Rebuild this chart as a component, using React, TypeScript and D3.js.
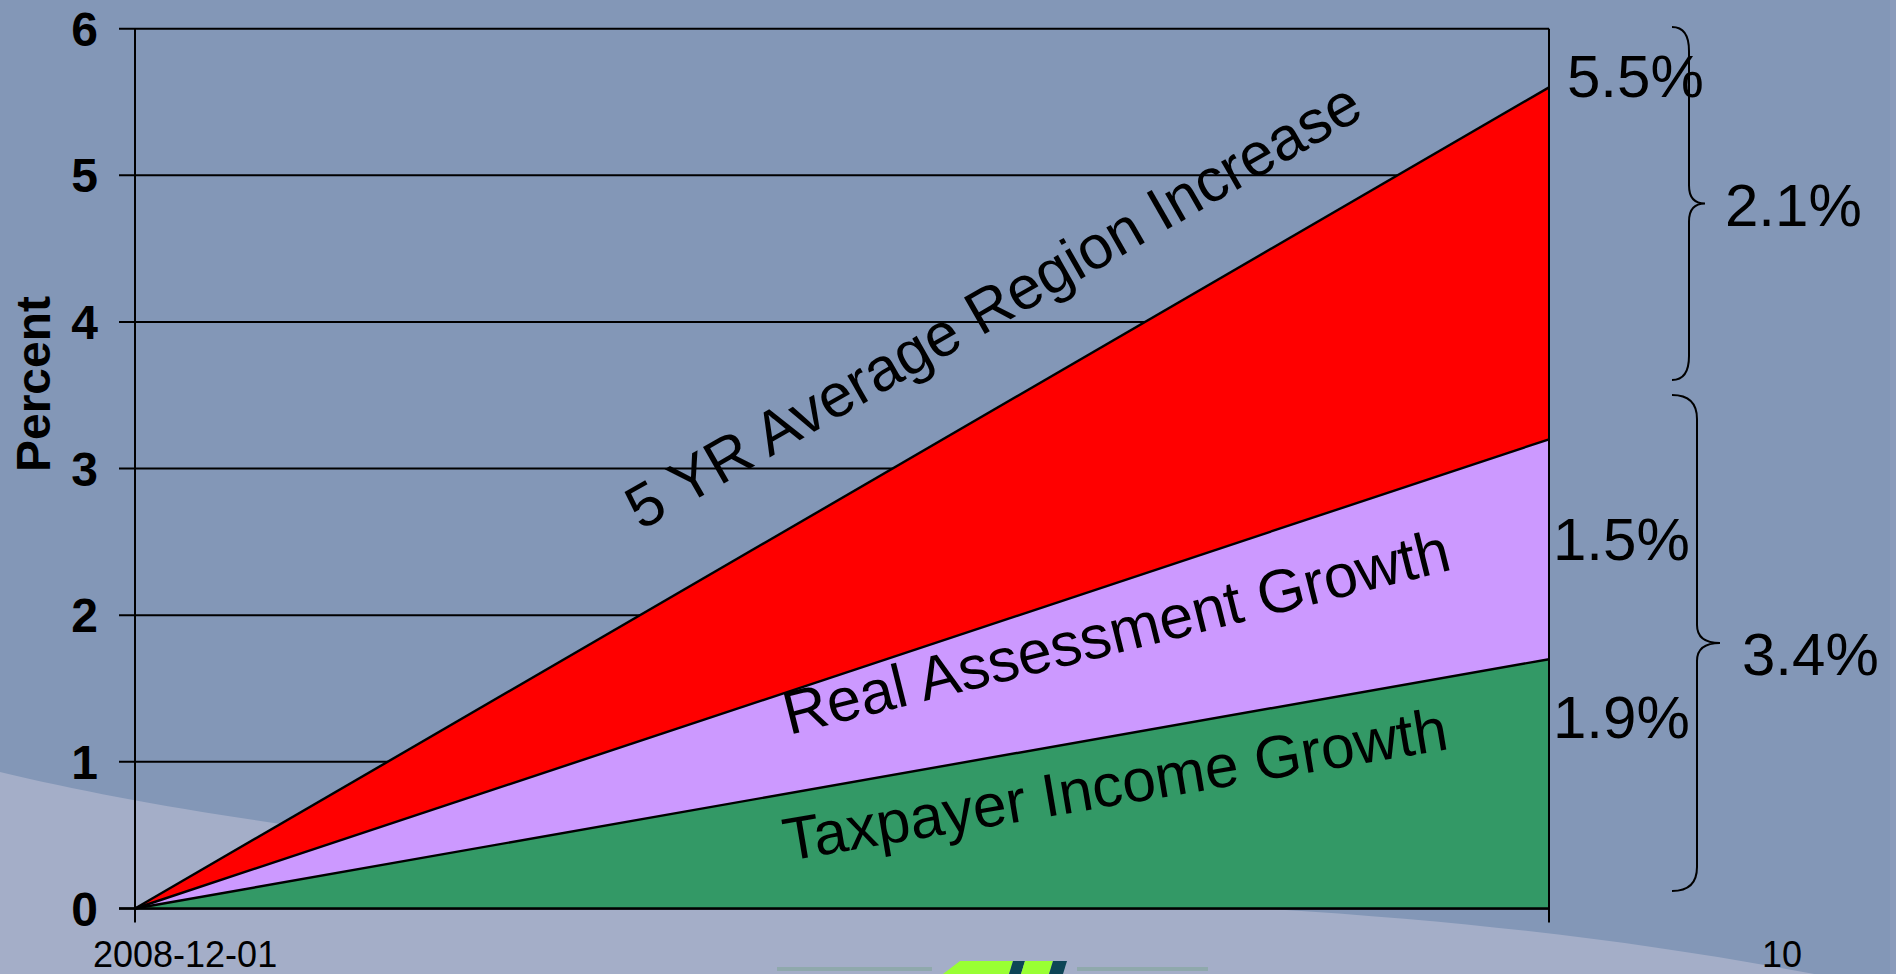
import React from "react";
import * as d3 from "d3";

// ---- data ----
const categories = [0, 1];
const taxpayerIncome = [0, 1.7];
const realAssessment = [0, 1.5];
const regionIncrease = [0, 2.4];
const seriesNames = ["Taxpayer Income Growth", "Real Assessment Growth", "5 YR Average Region Increase"];
const seriesColors = ["#339966", "#CC99FF", "#FF0000"];
const yTicks = [0, 1, 2, 3, 4, 5, 6];
const endLabels = ["1.9%", "1.5%", "5.5%"];
const braceLabels = ["2.1%", "3.4%"];
const footerDate = "2008-12-01";
const footerPage = "10";

const W = 1896;
const H = 974;
const FONT = "'Liberation Sans', Arial, Helvetica, sans-serif";

export default function App() {
  const x = d3.scaleLinear().domain([0, 1]).range([135, 1549]);
  const y = d3.scaleLinear().domain([0, 6]).range([908.5, 28.7]);

  const rows = categories.map((c, i) => ({
    c,
    a: taxpayerIncome[i],
    b: realAssessment[i],
    r: regionIncrease[i],
  }));
  const stack = d3.stack<any>().keys(["a", "b", "r"]);
  const layers = stack(rows);
  const area = d3
    .area<any>()
    .x((d) => x(d.data.c))
    .y0((d) => y(d[0]))
    .y1((d) => y(d[1]));
  const line = d3
    .line<any>()
    .x((d) => x(d.data.c))
    .y((d) => y(d[1]));

  const brace = (x0: number, xs: number, xp: number, y0: number, y1: number) => {
    const ym = (y0 + y1) / 2;
    const r = 24;
    const r2 = 18;
    return `M${x0},${y0} Q${xs},${y0} ${xs},${y0 + r} L${xs},${ym - r2} Q${xs},${ym} ${xp},${ym} Q${xs},${ym} ${xs},${ym + r2} L${xs},${y1 - r} Q${xs},${y1} ${x0},${y1}`;
  };

  const rotLabels = [
    { text: seriesNames[2], x: 641, y: 531, angle: -29.8, size: 61 },
    { text: seriesNames[1], x: 789, y: 735, angle: -14, size: 61 },
    { text: seriesNames[0], x: 787, y: 861, angle: -9.6, size: 60.5 },
  ];

  return (
    <svg
      width={W}
      height={H}
      style={{ position: "fixed", left: 0, top: 0, display: "block" }}
      fontFamily={FONT}
    >
      <rect x={0} y={0} width={W} height={H} fill="#8397B7" />
      <path d="M0,772 C260,835 700,880 1200,905 C1500,920 1700,950 1896,990 L1896,974 L0,974 Z" fill="#A4AEC8" />
      <rect x={1890} y={0} width={6} height={H} fill="#8A9BBB" />

      {/* logo */}
      <rect x={777} y={967} width={155} height={4} fill="#8FA9AC" />
      <rect x={1077} y={967} width={131} height={4} fill="#8FA9AC" />
      <path d="M960,961 L1013,961 L1009,974 L943,974 Z" fill="#99FF33" />
      <path d="M1013,961 L1025,961 L1021,974 L1009,974 Z" fill="#0D4556" />
      <path d="M1025,961 L1053,961 L1049,974 L1021,974 Z" fill="#99FF33" />
      <path d="M1053,961 L1067,961 L1063,974 L1049,974 Z" fill="#0D4556" />

      {/* gridlines */}
      {yTicks.map((t) => (
        <line key={t} x1={119} x2={x(1)} y1={y(t)} y2={y(t)} stroke="#000" strokeWidth={2} />
      ))}

      {/* areas */}
      {layers.map((l, i) => (
        <path key={i} d={area(l) || ""} fill={seriesColors[i]} />
      ))}
      {layers.map((l, i) => (
        <path key={"l" + i} d={line(l) || ""} fill="none" stroke="#000" strokeWidth={2.4} />
      ))}

      {/* axes */}
      <line x1={119} x2={x(1)} y1={y(0)} y2={y(0)} stroke="#000" strokeWidth={2.5} />
      <line x1={x(0)} x2={x(0)} y1={y(6)} y2={y(0) + 14} stroke="#000" strokeWidth={2} />
      <line x1={x(1)} x2={x(1)} y1={y(6)} y2={y(0) + 14} stroke="#000" strokeWidth={2} />

      {yTicks.map((t) => (
        <text key={"t" + t} x={98} y={y(t) + 17} textAnchor="end" fontSize={48} fontWeight="bold" fill="#000">
          {t}
        </text>
      ))}
      <text
        transform={`translate(50,384) rotate(-90)`}
        textAnchor="middle"
        fontSize={48}
        fontWeight="bold"
        fill="#000"
      >
        Percent
      </text>

      {/* rotated series labels */}
      {rotLabels.map((r, i) => (
        <text key={"r" + i} transform={`translate(${r.x},${r.y}) rotate(${r.angle})`} fontSize={r.size} fill="#000">
          {r.text}
        </text>
      ))}

      {/* end labels */}
      <text x={1567} y={97} fontSize={60} fill="#000">{endLabels[2]}</text>
      <text x={1553} y={560} fontSize={60} fill="#000">{endLabels[1]}</text>
      <text x={1553} y={738} fontSize={60} fill="#000">{endLabels[0]}</text>

      {/* braces */}
      <path d={brace(1672, 1689, 1705, 27, 380)} fill="none" stroke="#000" strokeWidth={2} />
      <path d={brace(1672, 1697, 1720, 395, 891)} fill="none" stroke="#000" strokeWidth={2} />
      <text x={1725} y={226} fontSize={60} fill="#000">{braceLabels[0]}</text>
      <text x={1742} y={675} fontSize={60} fill="#000">{braceLabels[1]}</text>

      {/* footer */}
      <text x={93} y={967} fontSize={36} fill="#000">{footerDate}</text>
      <text x={1762} y={967} fontSize={36} fill="#000">{footerPage}</text>
    </svg>
  );
}
